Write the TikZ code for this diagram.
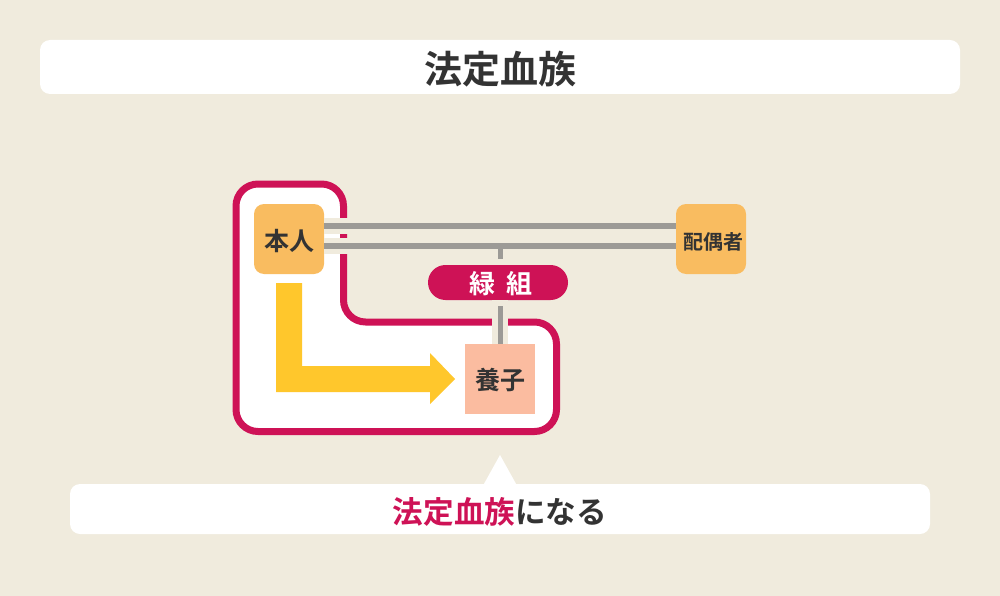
\documentclass[tikz,border=0pt]{standalone}
\usepackage{fontspec}
\setmainfont{Noto Sans CJK JP}[BoldFont={Noto Sans CJK JP Bold}]
\definecolor{bgc}{HTML}{F0EBDD}
\definecolor{mag}{HTML}{CE1256}
\definecolor{org}{HTML}{F9BC60}
\definecolor{pch}{HTML}{FBBCA0}
\definecolor{yel}{HTML}{FFC72C}
\definecolor{gry}{HTML}{9C9A96}
\definecolor{txt}{HTML}{333333}
\tikzset{
  x=1pt,y=-1pt,
  person/.style={fill=org,rounded corners=10pt,minimum width=70pt,minimum height=70pt,inner sep=0pt,text=txt,font=\bfseries\fontsize{25}{25}\selectfont,text depth=0pt,text height=22pt},
  banner/.style={fill=white,rounded corners=10pt,inner sep=0pt,text=txt,font=\bfseries,text depth=0pt},
  halo/.style={draw=bgc,line width=16pt},
  tie/.style={draw=gry,line width=5.5pt},
}
\begin{document}
\begin{tikzpicture}
\path[fill=bgc] (0,0) rectangle (1000,596);
\useasboundingbox (0,0) rectangle (1000,596);
% outline
\draw[mag,line width=7pt,fill=white,rounded corners=22pt]
  (236,184) -- (343.5,184) -- (343.5,322) -- (556.5,322) -- (556.5,431.5) -- (236,431.5) -- cycle;
% nodes
\node[banner,minimum width=920pt,minimum height=54pt,font=\bfseries\fontsize{38}{38}\selectfont,text height=34pt] (title) at (500,67) {法定血族};
\node[person] (self) at (289,239) {本人};
\node[person,font=\bfseries\fontsize{20}{20}\selectfont,text height=20pt] (spouse) at (711,239) {\hspace*{4pt}配偶者};
\node[fill=pch,minimum width=70pt,minimum height=70pt,inner sep=0pt,text=txt,font=\bfseries\fontsize{25}{25}\selectfont,text depth=0pt,text height=21pt] (child) at (500,379) {養子};
\node[fill=mag,rounded corners=17.5pt,minimum width=140pt,minimum height=35pt,inner sep=0pt,text=white,font=\bfseries\fontsize{26}{26}\selectfont,text depth=0pt,text height=21pt] (tiebar) at (498,282.5) {\hspace*{6pt}緑\hspace{11pt}組};
\node[banner,minimum width=860pt,minimum height=50pt,font=\bfseries\fontsize{30.6}{30.6}\selectfont,text height=28pt] (note) at (500,509) {\textcolor{mag}{法定血族}になる};
\coordinate (apex) at (500,455);
\fill[white] (apex) -- ([xshift=-16pt]note.north) -- ([xshift=16pt]note.north) -- cycle;
% connectors
\draw[halo] ([yshift=13pt]self.east) -- ([yshift=13pt]spouse.west);
\draw[halo] ([yshift=-7pt]self.east) -- ([yshift=-7pt]spouse.west);
\draw[tie] ([yshift=13pt]self.east) -- ([yshift=13pt]spouse.west);
\draw[tie] ([yshift=-7pt]self.east) -- ([yshift=-7pt]spouse.west);
\draw[tie,line width=5pt] ([xshift=2pt,yshift=19pt]tiebar.north) -- ([xshift=2pt,yshift=6pt]tiebar.north);
\draw[halo] (tiebar.south -| child.north) -- (child.north);
\draw[tie,line width=5pt] ([xshift=2pt,yshift=-6pt]tiebar.south) -- (child.north);
% arrow
\fill[yel] (276,283) -- (302,283) -- (302,366) -- (430,366) -- (430,353) -- (455,379) -- (430,404) -- (430,392) -- (276,392) -- cycle;
\end{tikzpicture}
\end{document}
